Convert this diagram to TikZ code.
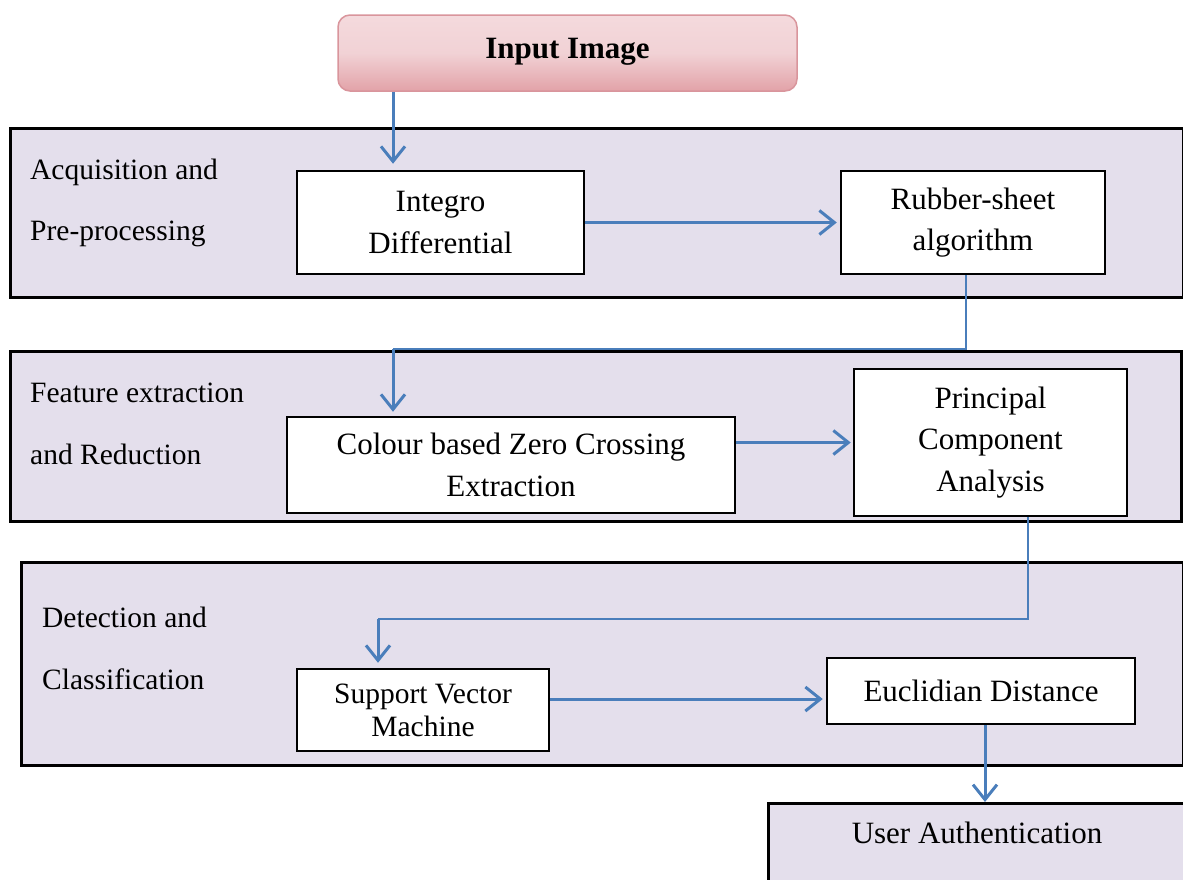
\documentclass[tikz,border=0pt]{standalone}
\usepackage{fontspec}
\setmainfont{Liberation Serif}
\usetikzlibrary{arrows.meta}
\definecolor{bandcol}{HTML}{E4DFEC}
\definecolor{arrowblue}{HTML}{4A7EBB}
\definecolor{pinktop}{HTML}{F4DADD}
\definecolor{pinkbot}{HTML}{E2A2A8}
\definecolor{pinkedge}{HTML}{D9959C}
\begin{document}
\begin{tikzpicture}[x=1pt,y=-1pt,
  bandbox/.style={draw=black, line width=2.5pt, fill=bandcol, anchor=north west, inner sep=0pt},
  procbox/.style={draw=black, line width=2.5pt, fill=white, align=center, inner sep=0pt,
                  font=\fontsize{31}{41.5}\selectfont},
  lbl/.style={anchor=base west, font=\fontsize{29.5}{35}\selectfont, inner sep=0pt},
  arr/.style={draw=arrowblue, line width=3pt, -{Straight Barb[length=15pt,width=24pt]}},
  link/.style={draw=arrowblue, line width=1.5pt}]
\useasboundingbox (0,0) rectangle (1183,879);

% bands
\node[bandbox, minimum width=1173pt, minimum height=169pt] (band1) at (9,127) {};
\node[bandbox, minimum width=1171pt, minimum height=170pt] (band2) at (9,350) {};
\node[bandbox, minimum width=1162pt, minimum height=203pt] (band3) at (20,561) {};

% band labels
\node[lbl] (l1a) at (30,179) {Acquisition and};
\node[lbl] (l1b) at (30,240) {Pre-processing};
\node[lbl] (l2a) at (30,402) {Feature extraction};
\node[lbl] (l2b) at (30,464) {and Reduction};
\node[lbl] (l3a) at (42,627) {Detection and};
\node[lbl] (l3b) at (42,689) {Classification};

% input box
\node[draw=pinkedge, line width=1.5pt, rounded corners=12pt, top color=pinktop, bottom color=pinkbot,
      middle color=pinktop!85!pinkbot, minimum width=459pt, minimum height=76pt,
      font=\fontsize{31}{36}\selectfont\bfseries, inner sep=0pt, text depth=10pt] (input) at (567.5,53) {Input Image};

% process boxes
\node[procbox, minimum width=287pt, minimum height=103pt] (integro) at (440.5,222.5) {Integro\\Differential};
\node[procbox, minimum width=264pt, minimum height=103pt] (rubber) at (973,222.5) {Rubber-sheet\\algorithm};
\node[procbox, minimum width=448pt, minimum height=96pt] (colour) at (511,465) {Colour based Zero Crossing\\Extraction};
\node[procbox, minimum width=273pt, minimum height=147pt] (pca) at (990.5,442.5) {Principal\\Component\\Analysis};
\node[procbox, minimum width=252pt, minimum height=82pt, font=\fontsize{29.5}{33}\selectfont] (svm) at (423,710) {Support Vector\\Machine};
\node[procbox, minimum width=308pt, minimum height=66pt] (euclid) at (981,691) {Euclidian Distance};

% user authentication
\node[bandbox, minimum width=430pt, minimum height=120pt] (user) at (767,802) {};
\node[font=\fontsize{31}{36}\selectfont, inner sep=0pt] (usertext) at (977,833) {User Authentication};

% helper coordinates
\coordinate (xin) at (393,0);
\coordinate (c1) at (966,349);
\coordinate (c2) at (393,349);
\coordinate (d1) at (1028,619);
\coordinate (d2) at (378,619);
\coordinate (row3) at (0,699);
\coordinate (xout) at (985,0);

% connectors
\draw[arr, shorten >=6pt] (input.south -| xin) -- (integro.north -| xin);
\draw[arr, shorten >=3pt] (integro.east) -- (rubber.west);
\draw[link] (rubber.south -| c1) -- (c1) -- (c2);
\draw[arr, shorten >=4pt] (c2) -- (colour.north -| c2);
\draw[arr, shorten >=2pt] (colour.east |- pca.west) -- (pca.west);
\draw[link] (pca.south -| d1) -- (d1) -- (d2);
\draw[arr, shorten >=5pt] (d2) -- (svm.north -| d2);
\draw[arr, shorten >=3pt] (svm.east |- row3) -- (euclid.west |- row3);
\draw[arr] (euclid.south -| xout) -- (user.north -| xout);
\end{tikzpicture}
\end{document}
